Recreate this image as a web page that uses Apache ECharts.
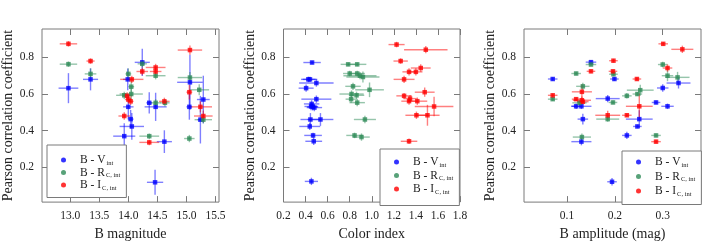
<!DOCTYPE html>
<html>
<head>
<meta charset="utf-8">
<script src="https://cdn.jsdelivr.net/npm/echarts@6/dist/echarts.min.js"></script>
<style>html,body{margin:0;padding:0;background:#fff}#c{width:726px;height:246px}</style>
</head>
<body>
<div id="c"></div>
<script>
// ---------- DATA: rows are [x, y, xError, yError] ----------
// Panel 1: B magnitude
const magBV = [
  [12.97,0.632,0.17,0.082],[13.35,0.680,0.13,0.06],[14.24,0.773,0.13,0.074],[13.99,0.680,0.08,0.06],
  [14.36,0.552,0.05,0.058],[14.47,0.530,0.19,0.077],[14.00,0.530,0.09,0.065],[14.04,0.463,0.05,0.05],
  [14.06,0.423,0.21,0.073],[13.93,0.370,0.19,0.07],[14.62,0.340,0.13,0.062],[14.46,0.118,0.14,0.068],
  [15.06,0.664,0.22,0.15],[15.05,0.530,0.05,0.07],[15.29,0.570,0.11,0.13],[15.24,0.460,0.05,0.13]
];
const magBR = [
  [12.97,0.763,0.15,0.015],[13.35,0.710,0.10,0.03],[14.00,0.710,0.05,0.03],[14.24,0.765,0.08,0.02],
  [14.47,0.700,0.17,0.02],[14.05,0.640,0.05,0.03],[14.05,0.600,0.20,0.03],[13.93,0.593,0.14,0.02],
  [14.47,0.552,0.09,0.02],[14.63,0.552,0.08,0.02],[14.36,0.370,0.17,0.015],[15.06,0.690,0.21,0.03],
  [15.22,0.623,0.17,0.03],[15.29,0.460,0.15,0.02],[15.05,0.357,0.09,0.02]
];
const magBI = [
  [12.97,0.874,0.15,0.015],[13.35,0.780,0.07,0.015],[13.93,0.480,0.10,0.02],[13.98,0.590,0.08,0.02],
  [14.00,0.570,0.06,0.02],[14.06,0.680,0.20,0.02],[14.04,0.560,0.05,0.02],[14.24,0.723,0.10,0.02],
  [14.47,0.745,0.17,0.02],[14.47,0.723,0.10,0.02],[14.36,0.336,0.17,0.015],[14.62,0.560,0.09,0.02],
  [15.06,0.840,0.21,0.025],[15.05,0.610,0.05,0.04],[15.24,0.530,0.20,0.03],[15.29,0.480,0.16,0.03]
];
// Panel 2: Color index
const colBV = [
  [0.459,0.772,0.079,0.01],[0.425,0.680,0.066,0.015],[0.440,0.680,0.066,0.015],[0.498,0.660,0.156,0.02],
  [0.405,0.632,0.068,0.02],[0.498,0.572,0.136,0.02],[0.455,0.546,0.07,0.02],[0.450,0.532,0.06,0.02],
  [0.480,0.526,0.07,0.02],[0.465,0.530,0.05,0.02],[0.444,0.461,0.09,0.035],[0.535,0.461,0.117,0.035],
  [0.438,0.423,0.095,0.02],[0.468,0.374,0.08,0.015],[0.474,0.342,0.076,0.02],[0.453,0.123,0.06,0.02]
];
const colBR = [
  [0.786,0.762,0.068,0.01],[0.868,0.762,0.083,0.01],[0.800,0.712,0.06,0.015],[0.868,0.712,0.07,0.015],
  [0.893,0.700,0.15,0.02],[0.920,0.693,0.15,0.03],[0.830,0.642,0.07,0.02],[0.980,0.623,0.13,0.04],
  [0.817,0.600,0.11,0.02],[0.862,0.593,0.07,0.02],[0.813,0.572,0.05,0.02],[0.868,0.553,0.07,0.02],
  [0.938,0.461,0.10,0.02],[0.844,0.374,0.075,0.015],[0.907,0.365,0.075,0.02]
];
const colBI = [
  [1.225,0.870,0.073,0.015],[1.490,0.842,0.197,0.02],[1.262,0.780,0.065,0.015],[1.444,0.742,0.09,0.02],
  [1.338,0.721,0.06,0.02],[1.400,0.721,0.06,0.02],[1.293,0.680,0.095,0.02],[1.480,0.610,0.09,0.025],
  [1.293,0.590,0.07,0.015],[1.347,0.575,0.06,0.02],[1.338,0.561,0.07,0.02],[1.413,0.561,0.09,0.02],
  [1.565,0.532,0.175,0.053],[1.405,0.484,0.10,0.02],[1.505,0.484,0.11,0.057],[1.338,0.342,0.075,0.015]
];
// Panel 3: B amplitude (mag)
const ampBV = [
  [0.070,0.682,0.010,0.01],[0.150,0.774,0.011,0.01],[0.199,0.682,0.009,0.01],[0.185,0.575,0.025,0.02],
  [0.119,0.533,0.010,0.015],[0.130,0.533,0.021,0.015],[0.133,0.463,0.011,0.03],[0.130,0.340,0.021,0.02],
  [0.225,0.374,0.010,0.02],[0.247,0.423,0.009,0.01],[0.251,0.463,0.028,0.048],[0.286,0.554,0.009,0.01],
  [0.310,0.533,0.013,0.015],[0.300,0.633,0.012,0.02],[0.333,0.660,0.025,0.03],[0.194,0.121,0.010,0.02]
];
const ampBR = [
  [0.070,0.572,0.010,0.01],[0.150,0.761,0.011,0.01],[0.119,0.712,0.010,0.01],[0.133,0.642,0.014,0.02],
  [0.126,0.552,0.015,0.015],[0.197,0.708,0.009,0.01],[0.196,0.554,0.009,0.01],[0.185,0.463,0.024,0.015],
  [0.131,0.365,0.019,0.02],[0.225,0.590,0.010,0.015],[0.247,0.600,0.010,0.01],[0.253,0.621,0.028,0.03],
  [0.300,0.761,0.010,0.015],[0.310,0.700,0.012,0.03],[0.331,0.691,0.025,0.03],[0.286,0.374,0.010,0.01]
];
const ampBI = [
  [0.301,0.874,0.010,0.01],[0.341,0.844,0.023,0.02],[0.197,0.782,0.009,0.01],[0.310,0.742,0.010,0.02],
  [0.150,0.724,0.009,0.01],[0.196,0.724,0.009,0.01],[0.246,0.682,0.009,0.01],[0.131,0.612,0.021,0.04],
  [0.070,0.593,0.010,0.01],[0.119,0.572,0.009,0.01],[0.131,0.566,0.019,0.02],[0.133,0.558,0.012,0.015],
  [0.185,0.484,0.026,0.025],[0.225,0.484,0.010,0.01],[0.251,0.533,0.028,0.07],[0.286,0.340,0.010,0.01]
];

const seriesNames = ['B - V_int', 'B - R_C, int', 'B - I_C, int'];
const xNames = ['B magnitude', 'Color index', 'B amplitude (mag)'];
const yName = 'Pearson correlation coefficient';
const xTicks = [[13.0,13.5,14.0,14.5,15.0,15.5],[0.2,0.4,0.6,0.8,1.0,1.2,1.4,1.6,1.8],[0.1,0.2,0.3]];
const yTicks = [0.2,0.4,0.6,0.8];
const xRanges = [[12.515,15.56],[0.2,1.8],[0.01,0.38]];
const yRange = [0.01,0.955];

// ---------- STYLE ----------
const colors = ['#0000ff', '#2e8b57', '#ff0000'];
const FONT = 'Liberation Serif';
const frameColor = '#7a7a7a';
const panelData = [[magBV, magBR, magBI],[colBV, colBR, colBI],[ampBV, ampBR, ampBI]];
const grids = [
  {left: 42, top: 29, width: 177, height: 178},
  {left: 283.5, top: 29, width: 176.5, height: 178},
  {left: 524, top: 29, width: 177, height: 178}
];
const legendLayout = [
  {left: 47, top: 145, gap: 0, padding: [9, 6, 6, 14]},
  {left: 380, top: 149, gap: 1, padding: [7, 6, 10, 14]},
  {left: 622, top: 151, gap: 2, padding: [5, 6, 7, 14]}
];

const xAxes = [], yAxes = [], series = [], legends = [];
grids.forEach((g, i) => {
  const tickCommon = {show: true, inside: true, length: 6, lineStyle: {color: frameColor, width: 1}};
  xAxes.push({
    type: 'value', gridIndex: i, position: 'bottom', min: xRanges[i][0], max: xRanges[i][1],
    name: xNames[i], nameLocation: 'middle', nameGap: 22,
    nameTextStyle: {fontFamily: FONT, fontSize: 14, color: '#222'},
    axisLine: {show: false}, splitLine: {show: false},
    axisTick: Object.assign({customValues: xTicks[i]}, tickCommon),
    axisLabel: {customValues: xTicks[i], formatter: v => v.toFixed(1), fontFamily: FONT, fontSize: 11.5, color: '#222', margin: 8}
  });
  xAxes.push({
    type: 'value', gridIndex: i, position: 'top', min: xRanges[i][0], max: xRanges[i][1],
    axisLine: {show: false}, splitLine: {show: false},
    axisTick: Object.assign({customValues: xTicks[i]}, tickCommon),
    axisLabel: {show: false}
  });
  yAxes.push({
    type: 'value', gridIndex: i, position: 'left', min: yRange[0], max: yRange[1],
    name: yName, nameLocation: 'middle', nameGap: 25,
    nameTextStyle: {fontFamily: FONT, fontSize: 14, color: '#222'},
    axisLine: {show: false}, splitLine: {show: false},
    axisTick: Object.assign({customValues: yTicks}, tickCommon),
    axisLabel: {customValues: yTicks, formatter: v => v.toFixed(1), fontFamily: FONT, fontSize: 11.5, color: '#222', margin: 8}
  });
  yAxes.push({
    type: 'value', gridIndex: i, position: 'right', min: yRange[0], max: yRange[1],
    axisLine: {show: false}, splitLine: {show: false},
    axisTick: Object.assign({customValues: yTicks}, tickCommon),
    axisLabel: {show: false}
  });

  panelData[i].forEach((rows, k) => {
    const col = colors[k];
    series.push({
      type: 'custom', name: 'err' + i + k, xAxisIndex: 2 * i, yAxisIndex: 2 * i,
      data: rows, encode: {x: 0, y: 1}, silent: true, z: 2 + k,
      renderItem: function (params, api) {
        const x = api.value(0), y = api.value(1), xe = api.value(2), ye = api.value(3);
        const a = api.coord([x - xe, y]), b = api.coord([x + xe, y]);
        const c = api.coord([x, y - ye]), d = api.coord([x, y + ye]);
        const st = {stroke: col, lineWidth: 1.4, opacity: 0.5};
        return {type: 'group', children: [
          {type: 'line', shape: {x1: a[0], y1: a[1], x2: b[0], y2: b[1]}, style: st},
          {type: 'line', shape: {x1: c[0], y1: c[1], x2: d[0], y2: d[1]}, style: st}
        ]};
      }
    });
    series.push({
      type: 'scatter', name: seriesNames[k], xAxisIndex: 2 * i, yAxisIndex: 2 * i,
      data: rows.map(r => [r[0], r[1]]), symbol: 'rect', symbolSize: 4.5, z: 5 + k,
      itemStyle: {color: col}
    });
  });

  const L = legendLayout[i];
  legends.push({
    orient: 'vertical', left: L.left, top: L.top,
    data: seriesNames.map(n => ({name: n, icon: 'circle'})),
    itemWidth: 5, itemHeight: 5, itemGap: L.gap,
    padding: L.padding,
    borderColor: frameColor, borderWidth: 1, backgroundColor: '#fff',
    selectedMode: false,
    formatter: function (name) {
      const p = name.split('_');
      return '{a|' + p[0] + '}{b|' + p[1] + '}';
    },
    textStyle: {
      padding: [0, 0, 0, 9],
      rich: {
        a: {fontFamily: FONT, fontSize: 11.5, color: '#222', lineHeight: 13},
        b: {fontFamily: FONT, fontSize: 6.5, color: '#222', lineHeight: 13, verticalAlign: 'bottom', padding: [5, 0, 0, 1]}
      }
    }
  });
});

const chart = echarts.init(document.getElementById('c'), null, {renderer: 'canvas'});
chart.setOption({
  animation: false,
  backgroundColor: '#fff',
  grid: grids.map(g => Object.assign({show: true, borderColor: frameColor, borderWidth: 1, backgroundColor: 'transparent', containLabel: false}, g)),
  xAxis: xAxes,
  yAxis: yAxes,
  legend: legends,
  series: series
});
</script>
</body>
</html>
